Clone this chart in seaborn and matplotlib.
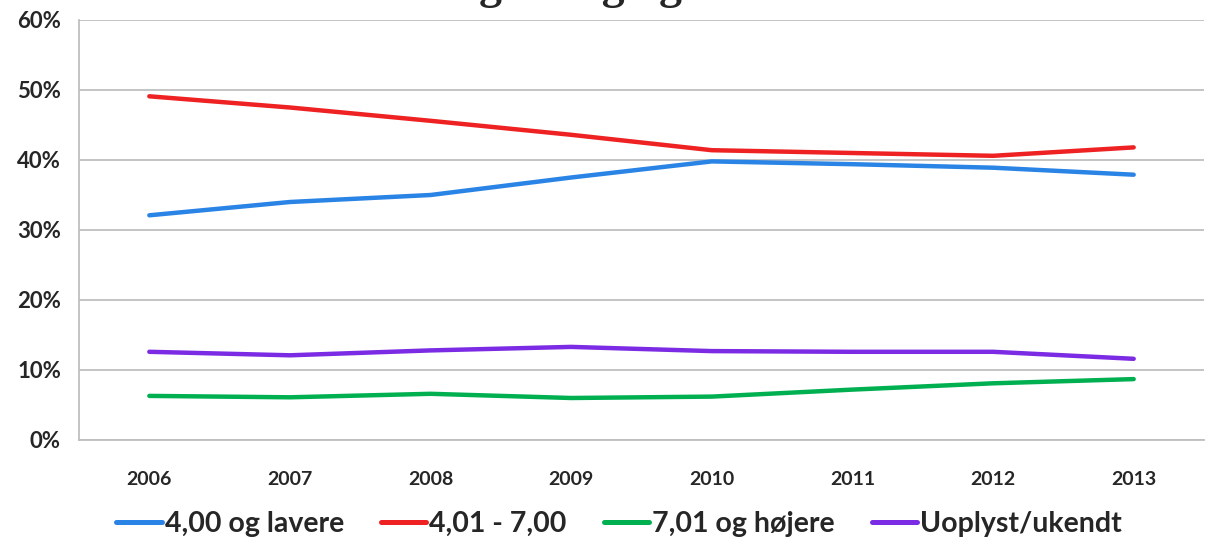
import pandas as pd
import seaborn as sns
import matplotlib.pyplot as plt
from matplotlib.ticker import PercentFormatter, FixedLocator

years = ['2006', '2007', '2008', '2009', '2010', '2011', '2012', '2013']
series_names = ['4,00 og lavere', '4,01 - 7,00', '7,01 og højere', 'Uoplyst/ukendt']
lav = [32.1, 34.0, 35.0, 37.5, 39.8, 39.4, 38.9, 37.9]
mellem = [49.1, 47.5, 45.6, 43.6, 41.4, 41.0, 40.6, 41.8]
hoej = [6.3, 6.1, 6.6, 6.0, 6.2, 7.2, 8.1, 8.7]
ukendt = [12.6, 12.1, 12.8, 13.3, 12.7, 12.6, 12.6, 11.6]
colors = ['#2A84E6', '#EE2222', '#00B050', '#7B2BE3']

rows = []
for name, vals in zip(series_names, [lav, mellem, hoej, ukendt]):
    for i, v in enumerate(vals):
        rows.append({'pos': i, 'Andel': v, 'Karakter': name})
df = pd.DataFrame(rows)

sns.set_style('white')
plt.rcParams['font.family'] = ['Lato', 'DejaVu Sans']

fig = plt.figure(figsize=(12.18, 5.44), dpi=100)
ax = fig.add_axes([79 / 1218, 1 - 440 / 544, (1204 - 79) / 1218, 420 / 544])

sns.lineplot(data=df, x='pos', y='Andel', hue='Karakter', hue_order=series_names,
             palette=dict(zip(series_names, colors)), linewidth=3.2, ax=ax,
             solid_capstyle='round')

ax.set_xlim(-0.5, 7.5)
ax.set_ylim(0, 60)
ax.set_yticks(range(0, 61, 10))
ax.yaxis.set_major_formatter(PercentFormatter(decimals=0))
ax.set_xticks(range(len(years)))
ax.set_xticklabels(years)
ax.xaxis.set_minor_locator(FixedLocator([i - 0.5 for i in range(len(years) + 1)]))
ax.tick_params(axis='x', which='major', length=0, pad=22, labelsize=14)
ax.tick_params(axis='x', which='minor', length=8, width=1.2, color='#BFBFBF', direction='out')
ax.tick_params(axis='y', length=7, width=1.2, color='#BFBFBF', direction='out', pad=6, labelsize=16)
for lab in ax.get_xticklabels() + ax.get_yticklabels():
    lab.set_fontweight('bold')
ax.grid(axis='y', color='#BFBFBF', linewidth=1.3)
ax.set_axisbelow(True)
ax.set_xlabel('')
ax.set_ylabel('')
for side in ['top', 'right']:
    ax.spines[side].set_visible(False)
for side in ['left', 'bottom']:
    ax.spines[side].set_color('#BFBFBF')
    ax.spines[side].set_linewidth(1.3)

handles, labels = ax.get_legend_handles_labels()
leg = ax.legend(handles, labels, ncol=4, loc='center', bbox_to_anchor=(0.48, -0.2),
                frameon=False, handlelength=1.6, handletextpad=0.1, columnspacing=1.3,
                prop={'family': 'Lato', 'weight': 'bold', 'size': 20.5})
for line in leg.get_lines():
    line.set_linewidth(3.6)

# title is mostly cut off at the top of the image
x_g = 479 / 1218
y_base = 1 + 2 / 544
fig.text(x_g, y_base, 'Karakter', ha='right', va='baseline', fontsize=33,
         fontweight='bold', family='Liberation Serif')
fig.text(x_g, y_base, 'givning og karakterer', ha='left', va='baseline', fontsize=33,
         fontweight='bold', family='Liberation Serif')

fig.savefig('out.png', dpi=100)
